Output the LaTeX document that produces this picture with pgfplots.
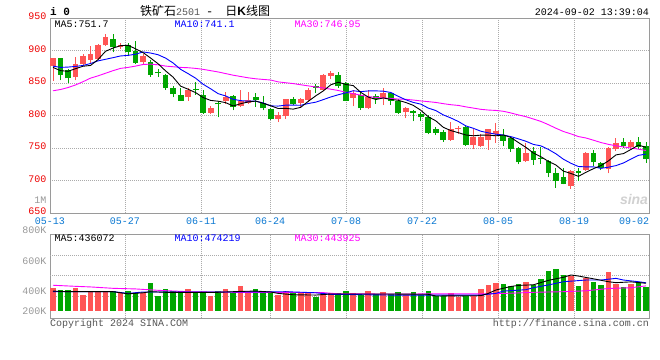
\documentclass[border=0pt]{standalone}
\usepackage{pgfplots}
\pgfplotsset{compat=1.18}
\usepackage{pgfplotstable}
\usepackage{fontspec}
\setmainfont{Liberation Sans}
\setsansfont{Liberation Sans}
\setmonofont{Liberation Mono}
\newfontfamily\cjk{Noto Sans CJK SC}
\definecolor{kred}{HTML}{FF5555}
\definecolor{kgreen}{HTML}{00A600}
\definecolor{pricered}{HTML}{EE0000}
\definecolor{dateblue}{HTML}{0A78D2}
\definecolor{lgray}{HTML}{999999}
\definecolor{gridgray}{HTML}{ABABAB}
\definecolor{bordergray}{HTML}{9A9A9A}
\definecolor{maten}{HTML}{0000FF}
\definecolor{mathirty}{HTML}{FF00FF}
\definecolor{titlegray}{HTML}{555555}
\newcommand\mono{\ttfamily\fontsize{10bp}{12bp}\selectfont}

% i open high low close volume(K)
\pgfplotstableread{
i o h l c v
0 876 889 853 888 428
1 888 889 854 863 413
2 870 872 850 857 413
3 859 890 854 880 428
4 879 895 877 891 380
5 886 907 880 894 406
6 887 910 886 908 406
7 908 925 907 921 406
8 918 925 897 905 406
9 906 911 903 909 391
10 909 912 891 897 406
11 900 914 879 881 391
12 883 894 879 892 391
13 882 886 860 863 461
14 866 872 859 865 374
15 863 864 840 842 420
16 842 846 828 833 406
17 831 842 822 823 406
18 828 843 823 839 420
19 840 851 832 839 395
20 831 839 803 804 395
21 804 815 802 811 374
22 820 823 797 817 406
23 822 836 818 828 420
24 830 832 808 813 391
25 815 840 813 822 439
26 819 836 818 824 406
27 828 834 813 824 420
28 820 830 808 811 406
29 810 812 793 794 395
30 795 806 790 801 380
31 799 826 795 825 406
32 825 829 816 818 395
33 819 827 813 825 395
34 824 842 821 840 395
35 845 848 835 843 369
36 840 864 837 863 395
37 861 869 856 865 391
38 862 867 843 845 395
39 850 851 822 823 408
40 827 840 814 834 391
41 831 836 809 811 380
42 812 839 810 829 408
43 830 833 818 826 387
44 827 843 816 835 402
45 834 835 816 823 387
46 822 826 803 804 402
47 806 813 796 812 380
48 807 809 791 804 402
49 803 805 791 797 380
50 798 801 771 773 408
51 779 783 770 773 374
52 774 777 760 762 374
53 762 790 761 779 395
54 779 784 771 781 369
55 783 785 753 755 374
56 755 780 748 767 374
57 753 771 751 767 420
58 762 780 747 779 446
59 771 788 758 776 457
60 770 780 753 761 452
61 766 767 744 748 439
62 750 752 725 728 452
63 730 757 729 742 467
64 746 751 724 732 446
65 735 752 726 733 485
66 730 732 705 712 537
67 711 719 689 700 550
68 705 719 694 695 511
69 692 716 687 714 504
70 714 719 700 711 439
71 716 744 715 743 489
72 742 747 722 728 467
73 727 729 716 719 446
74 717 751 711 750 532
75 748 765 746 757 452
76 760 765 750 753 431
77 751 762 748 760 452
78 760 767 748 752 467
79 753 760 727 733 434
}\kdata

\pgfplotstableread{
i ma5 ma10 ma30
0 874 876 838
1 869 874 840
2 868 874.5 843
3 872 875.5 847
4 875.8 877 852
5 877.0 880 857.5
6 886.0 884 861
7 898.8 886.5 865
8 903.8 889 869
9 907.4 891.6 872.5
10 908.0 892.5 874
11 902.6 894.3 876
12 896.8 897.8 878.5
13 888.4 896.1 879
14 879.6 893.5 878
15 868.6 888.3 876
16 859.0 880.8 875
17 845.2 871.0 874
18 840.4 864.4 873.5
19 835.2 857.4 872.5
20 827.6 848.1 871
21 823.2 841.1 869
22 822.0 833.6 867
23 819.8 830.1 864.5
24 814.6 824.9 862
25 818.2 822.9 860
26 820.8 822.0 858
27 822.2 822.1 856.5
28 818.8 819.3 855.5
29 815.0 814.8 854.6
30 810.8 814.5 851.7
31 811.0 815.9 850.4
32 809.8 816.0 849.1
33 812.6 815.7 847.3
34 821.8 818.4 845.6
35 830.2 820.5 843.9
36 837.8 824.4 842.4
37 847.2 828.5 840.5
38 851.2 831.9 838.5
39 847.8 834.8 835.7
40 846.0 838.1 833.6
41 835.6 836.7 831.2
42 828.4 837.8 829.1
43 824.6 837.9 827.9
44 827.0 837.4 826.9
45 824.8 835.4 826.3
46 823.4 829.5 825.3
47 820.0 824.2 824.9
48 815.6 820.1 823.8
49 808.0 817.5 822.4
50 798.0 811.4 821.3
51 791.8 807.6 820.1
52 781.8 800.9 818.2
53 776.8 796.2 816.6
54 773.6 790.8 815.5
55 770.0 784.0 813.3
56 768.8 780.3 811.4
57 769.8 775.8 809.5
58 769.8 773.3 808.4
59 768.8 771.2 807.8
60 770.0 770.0 806.5
61 766.2 767.5 803.9
62 758.4 764.1 800.9
63 751.0 760.4 798.2
64 742.2 755.5 794.6
65 736.6 753.3 790.9
66 729.4 747.8 785.9
67 723.8 741.1 780.4
68 714.4 732.7 775.4
69 710.8 726.5 771.7
70 706.4 721.5 767.6
71 712.6 721.0 765.4
72 718.2 721.0 762.0
73 723.0 718.7 758.4
74 730.2 720.5 755.6
75 739.4 722.9 753.4
76 741.4 727.0 751.7
77 747.8 733.0 750.0
78 754.4 738.7 748.2
79 751.0 740.6 746.1
}\madata

\pgfplotstableread{
x y
0 406
2 402
5 402
8 402
10 388
12 395
13 402
15 398
18 398
22 398
25 404
27 406
29 400
30 391
32 382
35 380
37 387
45 387
50 385
51 374
57 376
58 391
59 413
61 436
62 443
64 447
66 476
68 496
69 511
70 504
72 486
74 467
75 461
77 466
79 457
}\vmafive

\pgfplotstableread{
x y
0 402
4 402
8 402
10 391
12 400
20 400
24 400
31 402
35 395
37 385
45 380
57 380
59 391
60 406
63 415
64 428
66 446
68 467
71 478
73 478
75 489
76 478
78 467
79 460
}\vmaten

\pgfplotstableread{
x y
0 444
3 437
5 433
8 424
11 420
14 411
18 402
24 398
36 396
38 388
45 387
57 388
61 392
64 398
68 402
71 408
74 423
77 428
79 440
}\vmathirty

\pgfplotsset{
  kpanel/.style={
    scale only axis, width=599bp,
    xmin=-0.4, xmax=79.4,
    axis line style={draw=bordergray, line width=1bp},
    major tick length=0pt, tick style={draw=none},
    xtick={-0.4,9.59,19.72,28.91,39.04,49.16,59.29,69.41},
    grid style={draw=gridgray, line width=0.8bp, dash pattern=on 1bp off 1bp},
    /pgf/number format/assume math mode=true,
  },
  upc/.style={x filter/.expression={\thisrow{c}>=\thisrow{o} ? x : nan}},
  dnc/.style={x filter/.expression={\thisrow{c}<\thisrow{o} ? x : nan}},
}

\begin{document}
\begin{tikzpicture}
\fill[white] (0,0) rectangle (660bp,-360bp);

\begin{axis}[kpanel,
  at={(50bp,-18bp)}, anchor=north west, height=195bp,
  ymin=650, ymax=950,
  xticklabels={05-13,05-27,06-11,06-24,07-08,07-22,08-05,08-19},
  extra x ticks={79.35}, extra x tick labels={09-02},
  extra x tick style={grid=none, ticklabel style={xshift=-14.4bp}},
  ytick={650,700,750,800,850,900,950},
  grid=major,
  xticklabel style={font=\mono, text=dateblue, yshift=-1.2bp},
  yticklabel style={font=\mono, text=pricered, yshift=1.5bp},
]
% wicks
\addplot[draw=none, mark=none, upc, error bars/.cd, y dir=plus, y explicit, error mark=none,
  error bar style={draw=kred, line width=1bp}]
  table[x=i, y=l, y error expr=\thisrow{h}-\thisrow{l}] {\kdata};
\addplot[draw=none, mark=none, dnc, error bars/.cd, y dir=plus, y explicit, error mark=none,
  error bar style={draw=kgreen, line width=1bp}]
  table[x=i, y=l, y error expr=\thisrow{h}-\thisrow{l}] {\kdata};
% bodies
\addplot[draw=none, mark=none, upc, error bars/.cd, y dir=plus, y explicit, error mark=none,
  error bar style={draw=kred, line width=5.8bp}]
  table[x=i, y expr={min(\thisrow{o},\thisrow{c})}, y error expr={max(abs(\thisrow{c}-\thisrow{o}),1.5)}] {\kdata};
\addplot[draw=none, mark=none, dnc, error bars/.cd, y dir=plus, y explicit, error mark=none,
  error bar style={draw=kgreen, line width=5.8bp}]
  table[x=i, y expr={min(\thisrow{o},\thisrow{c})}, y error expr={max(abs(\thisrow{c}-\thisrow{o}),1.5)}] {\kdata};
% moving averages
\addplot[mathirty, line width=0.9bp, mark=none] table[x=i, y=ma30] {\madata};
\addplot[maten, line width=0.9bp, mark=none] table[x=i, y=ma10] {\madata};
\addplot[black, line width=0.9bp, mark=none] table[x=i, y=ma5] {\madata};
\end{axis}

\begin{axis}[kpanel,
  at={(50bp,-234.3bp)}, anchor=north west, height=84bp,
  ymin=228.5, ymax=776.2,
  xticklabels={}, xmajorgrids,
  ytick={278,405,600}, yticklabels={200K,400K,600K},
  yticklabel style={font=\mono, text=lgray},
  extra y ticks={374,511,641}, extra y tick labels={},
  extra y tick style={grid=major},
]
\addplot[draw=none, mark=none, upc, error bars/.cd, y dir=plus, y explicit, error mark=none,
  error bar style={draw=kred, line width=5.6bp}]
  table[x=i, y expr=278, y error expr=\thisrow{v}-278] {\kdata};
\addplot[draw=none, mark=none, dnc, error bars/.cd, y dir=plus, y explicit, error mark=none,
  error bar style={draw=kgreen, line width=5.6bp}]
  table[x=i, y expr=278, y error expr=\thisrow{v}-278] {\kdata};
\addplot[mathirty, line width=0.9bp, mark=none] table[x=x, y=y] {\vmathirty};
\addplot[maten, line width=0.9bp, mark=none] table[x=x, y=y] {\vmaten};
\addplot[black, line width=0.9bp, mark=none] table[x=x, y=y] {\vmafive};
\end{axis}

% texts
\node[anchor=west, inner sep=0, font=\ttfamily\bfseries\fontsize{11bp}{11bp}\selectfont] at (50bp,-11.5bp) {i 0};
\node[anchor=west, inner sep=0] at (140bp,-10.5bp) {\cjk\fontsize{12bp}{12bp}\selectfont 铁矿石{\ttfamily\fontsize{10bp}{10bp}\selectfont\color{titlegray}2501}\hspace{6bp}{\ttfamily -}\hspace{12bp}日{\sffamily\bfseries K}线图};
\node[anchor=east, inner sep=0, font=\mono] at (649bp,-12bp) {2024-09-02 13:39:04};

\node[anchor=west, inner sep=0, font=\mono, text=black] at (54.5bp,-24bp) {MA5:751.7};
\node[anchor=west, inner sep=0, font=\mono, text=maten] at (174.5bp,-24bp) {MA10:741.1};
\node[anchor=west, inner sep=0, font=\mono, text=mathirty] at (294.5bp,-24bp) {MA30:746.95};

\node[anchor=west, inner sep=0, font=\mono, text=black] at (54.5bp,-238.5bp) {MA5:436072};
\node[anchor=west, inner sep=0, font=\mono, text=maten] at (174.5bp,-238.5bp) {MA10:474219};
\node[anchor=west, inner sep=0, font=\mono, text=mathirty] at (294.5bp,-238.5bp) {MA30:443925};

\node[anchor=east, inner sep=0, font=\mono, text=lgray] at (46.7bp,-200bp) {1M};
\node[anchor=east, inner sep=0, font=\mono, text=lgray] at (46.7bp,-230.7bp) {800K};

\node[anchor=west, inner sep=0, font=\mono, text=titlegray] at (50bp,-323.5bp) {Copyright 2024 SINA.COM};
\node[anchor=east, inner sep=0, font=\mono, text=titlegray] at (649bp,-323.5bp) {http://finance.sina.com.cn};

\node[inner sep=0, text=black!18, font=\sffamily\bfseries\itshape\fontsize{14bp}{14bp}\selectfont] at (634bp,-199bp) {sina};

\pgfresetboundingbox
\path[use as bounding box] (0,0) rectangle (660bp,-360bp);
\end{tikzpicture}
\end{document}
